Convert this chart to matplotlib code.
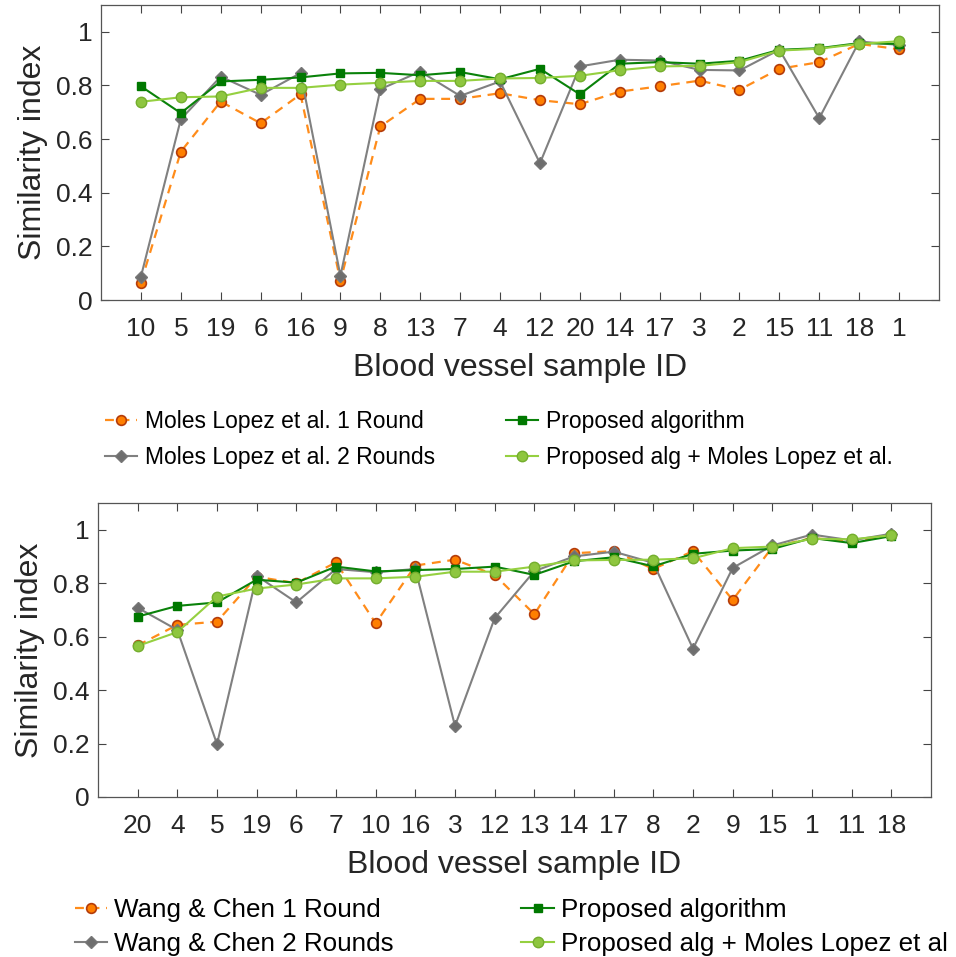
import matplotlib
matplotlib.use("Agg")
import matplotlib.pyplot as plt
import numpy as np

plt.rcParams["font.family"] = ["Liberation Sans", "DejaVu Sans"]

# --- dados ---
ids_top = ["10", "5", "19", "6", "16", "9", "8", "13", "7", "4",
           "12", "20", "14", "17", "3", "2", "15", "11", "18", "1"]
moles_1r = [0.065, 0.553, 0.740, 0.659, 0.767, 0.071, 0.647, 0.750, 0.750, 0.771,
            0.745, 0.730, 0.777, 0.797, 0.818, 0.784, 0.862, 0.887, 0.955, 0.935]
moles_2r = [0.087, 0.674, 0.833, 0.765, 0.846, 0.090, 0.786, 0.852, 0.761, 0.815,
            0.510, 0.871, 0.896, 0.893, 0.858, 0.856, 0.933, 0.678, 0.964, 0.951]
proposed_top = [0.797, 0.697, 0.815, 0.821, 0.830, 0.845, 0.847, 0.838, 0.850, 0.823,
                0.862, 0.767, 0.881, 0.887, 0.881, 0.892, 0.933, 0.939, 0.958, 0.955]
combined_top = [0.739, 0.756, 0.759, 0.791, 0.791, 0.803, 0.810, 0.817, 0.817, 0.826,
                0.828, 0.836, 0.857, 0.871, 0.873, 0.887, 0.930, 0.937, 0.955, 0.965]

ids_bot = ["20", "4", "5", "19", "6", "7", "10", "16", "3", "12",
           "13", "14", "17", "8", "2", "9", "15", "1", "11", "18"]
wang_1r = [0.567, 0.644, 0.656, 0.824, 0.800, 0.878, 0.650, 0.866, 0.888, 0.831,
           0.684, 0.912, 0.920, 0.853, 0.920, 0.737, 0.935, 0.969, 0.956, 0.979]
wang_2r = [0.708, 0.625, 0.198, 0.828, 0.728, 0.853, 0.841, 0.853, 0.266, 0.669,
           0.845, 0.900, 0.918, 0.876, 0.555, 0.857, 0.941, 0.982, 0.960, 0.985]
proposed_bot = [0.675, 0.715, 0.728, 0.813, 0.802, 0.862, 0.844, 0.849, 0.853, 0.862,
                0.831, 0.882, 0.897, 0.863, 0.910, 0.922, 0.928, 0.969, 0.950, 0.976]
combined_bot = [0.565, 0.617, 0.750, 0.780, 0.795, 0.818, 0.818, 0.824, 0.843, 0.843,
                0.862, 0.885, 0.887, 0.888, 0.893, 0.931, 0.937, 0.966, 0.964, 0.979]

ytick_vals = [0, 0.2, 0.4, 0.6, 0.8, 1]
ytick_labels = ["0", "0.2", "0.4", "0.6", "0.8", "1"]

top_labels = ["Moles Lopez et al. 1 Round", "Moles Lopez et al. 2 Rounds",
              "Proposed algorithm", "Proposed alg + Moles Lopez et al."]
bot_labels = ["Wang & Chen 1 Round", "Wang & Chen 2 Rounds",
              "Proposed algorithm", "Proposed alg + Moles Lopez et al"]

W, H = 956, 957
fig = plt.figure(figsize=(W / 100, H / 100), dpi=100)


def px_axes(l, t, r, b):
    return fig.add_axes([l / W, 1 - b / H, (r - l) / W, (b - t) / H])


def draw(ax, ids, s1, s2, s3, s4):
    x = np.arange(1, len(ids) + 1)
    h1, = ax.plot(x, s1, "--o", color="#FF8C1A", lw=1.6, ms=7,
                  mfc="#FF7F00", mec="#B43C0A", mew=1.2, dashes=(4, 3))
    h2, = ax.plot(x, s2, "-D", color="#808080", lw=1.5, ms=6,
                  mfc="#6E6E6E", mec="#777777", mew=1)
    h3, = ax.plot(x, s3, "-s", color="#0A820A", lw=1.5, ms=6,
                  mfc="#007800", mec="#007800", mew=1)
    h4, = ax.plot(x, s4, "-o", color="#95D040", lw=1.5, ms=7.5,
                  mfc="#8EC63F", mec="#74AE2E", mew=1)
    ax.set_xlim(0, len(ids) + 1)
    ax.set_ylim(0, 1.1)
    ax.set_xticks(x)
    ax.set_xticklabels(ids)
    ax.set_yticks(ytick_vals)
    ax.set_yticklabels(ytick_labels)
    ax.tick_params(direction="in", length=6, width=0.8, color="#444444",
                   top=True, right=True, labelsize=19, labelcolor="#262626")
    ax.tick_params(axis="x", pad=12)
    ax.tick_params(axis="y", pad=6)
    for sp in ax.spines.values():
        sp.set_color("#555555")
        sp.set_linewidth(0.9)
    ax.set_xlabel("Blood vessel sample ID", fontsize=23, color="#262626", labelpad=9)
    ax.set_ylabel("Similarity index", fontsize=23, color="#262626", labelpad=6)
    return [h1, h2, h3, h4]


ax1 = px_axes(101, 5, 939, 300)
hs = draw(ax1, ids_top, moles_1r, moles_2r, proposed_top, combined_top)
fig.legend(hs, top_labels, ncol=2, loc="upper left", frameon=False,
           bbox_to_anchor=(105 / W, 1 - 410 / H), fontsize=16.5,
           borderpad=0, borderaxespad=0, handlelength=1.4, handletextpad=0.35,
           columnspacing=3.1, labelspacing=0.57)

ax2 = px_axes(98, 503, 931, 797)
hs = draw(ax2, ids_bot, wang_1r, wang_2r, proposed_bot, combined_bot)
fig.legend(hs, bot_labels, ncol=2, loc="upper left", frameon=False,
           bbox_to_anchor=(75 / W, 1 - 898 / H), fontsize=18.7,
           borderpad=0, borderaxespad=0, handlelength=1.25, handletextpad=0.27,
           columnspacing=4.9, labelspacing=0.38)

fig.savefig("out.png", dpi=100)
